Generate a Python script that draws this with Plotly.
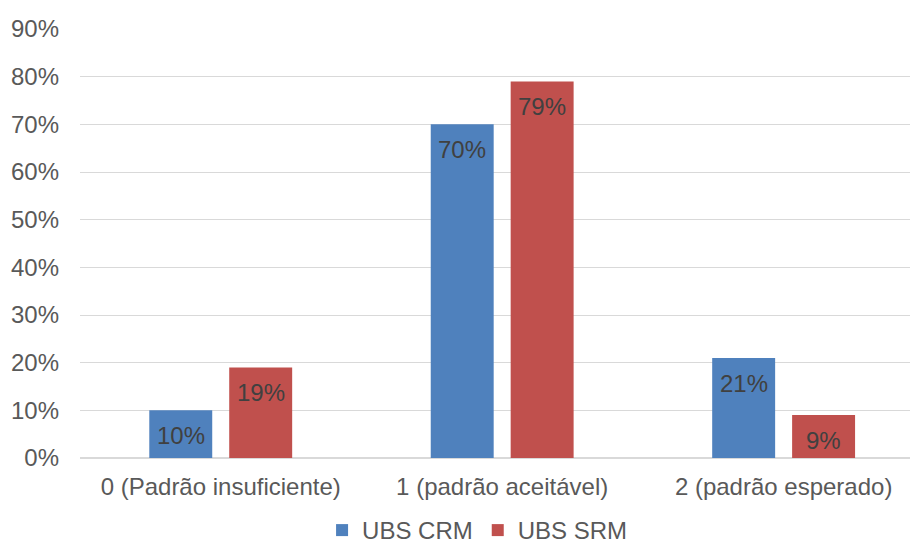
import plotly.graph_objects as go

# Chart data
categories = ["0 (Padrão insuficiente)", "1 (padrão aceitável)", "2 (padrão esperado)"]
series_names = ["UBS CRM", "UBS SRM"]
ubs_crm = [10, 70, 21]
ubs_srm = [19, 79, 9]
y_ticks = [0, 10, 20, 30, 40, 50, 60, 70, 80, 90]

colors = ["#4F81BD", "#C0504D"]
font_family = "Liberation Sans, Arial, sans-serif"
font_size = 24

fig = go.Figure()
for name, vals, col in zip(series_names, [ubs_crm, ubs_srm], colors):
    fig.add_trace(go.Bar(
        name=name, x=categories, y=vals,
        marker=dict(color=col, line=dict(width=0)),
    ))

# Value labels placed just inside the top of each bar
for vals, shift in [(ubs_crm, -40), (ubs_srm, 40)]:
    for cat, v in zip(categories, vals):
        fig.add_annotation(
            x=cat, y=v, text=f"{v}%", showarrow=False,
            xshift=shift, yanchor="top", yshift=-10,
            font=dict(family=font_family, size=font_size, color="#404040"),
        )

fig.update_layout(
    width=910, height=547,
    margin=dict(l=80, r=0, t=29, b=89, autoexpand=False),
    paper_bgcolor="white", plot_bgcolor="white",
    barmode="group", bargap=0.432, bargroupgap=0.2125,
    font=dict(family=font_family, size=font_size, color="#595959"),
    showlegend=True,
    legend=dict(
        orientation="h", x=0.479, xanchor="center",
        y=-0.169, yanchor="middle",
        font=dict(size=font_size, color="#595959"),
        itemwidth=30,
    ),
    xaxis=dict(
        range=[-0.5, 2.449], showgrid=False, showline=False, ticks="",
        tickfont=dict(size=font_size, color="#595959"),
        ticklabelstandoff=12, automargin=False,
    ),
    yaxis=dict(
        range=[0, 90], tickvals=y_ticks, ticktext=[f"{t}%" for t in y_ticks],
        showgrid=True, gridcolor="#D9D9D9", gridwidth=1.3,
        zeroline=True, zerolinecolor="#D9D9D9", zerolinewidth=1.5,
        showline=False, ticks="",
        tickfont=dict(size=font_size, color="#595959"),
        ticklabelstandoff=20, automargin=False,
    ),
)

fig.write_html("out.html")
